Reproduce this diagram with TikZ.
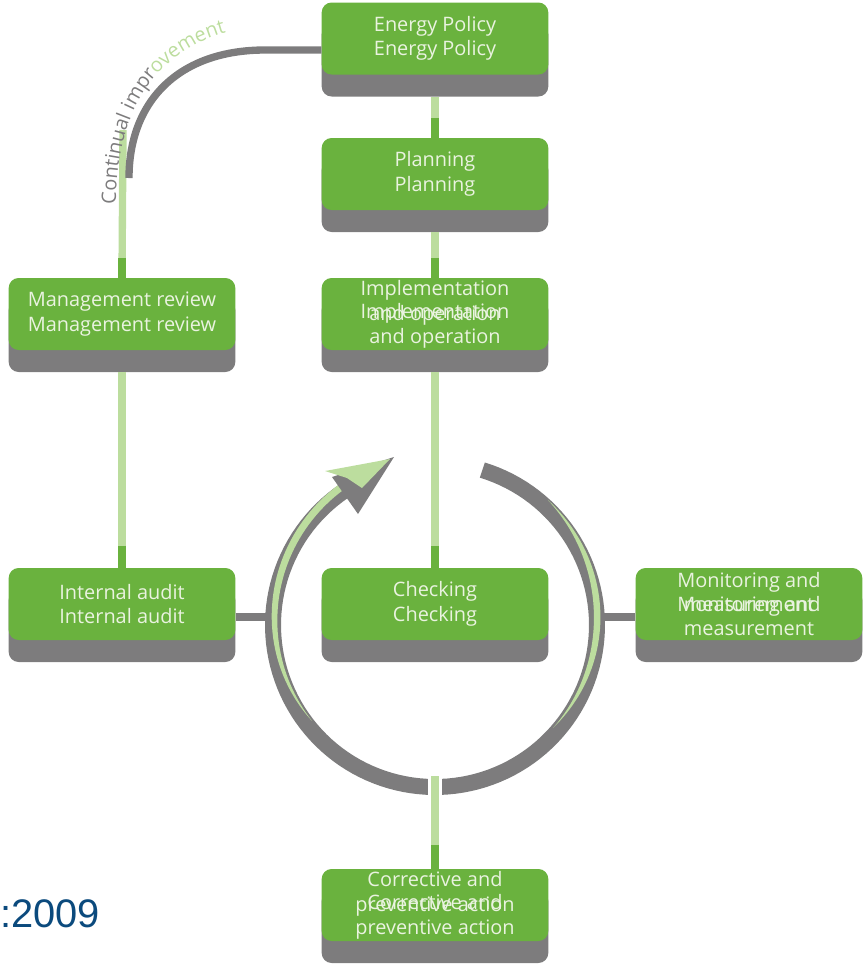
\documentclass[tikz,border=0pt]{standalone}
\usepackage{fontspec}
\setmainfont{Open Sans}
\newfontfamily\boxfont{Open Sans}
\newfontfamily\arialf{Liberation Sans}
\usetikzlibrary{shadows,calc,decorations.text}
\definecolor{boxgreen}{HTML}{6AB23E}
\definecolor{shadowgrey}{HTML}{7D7C7D}
\definecolor{lightgreen}{HTML}{BCDD9E}
\definecolor{txtwhite}{HTML}{EAF3E0}
\definecolor{titleblue}{HTML}{0B4A7D}
\begin{document}
\begin{tikzpicture}[x=0.03cm,y=-0.03cm,
  declare function={rcl(\t)=167-(\t-122)*11/96; wl(\t)=7*(1-((\t-122)/96)^3);
                    rcr(\t)=168-(45-\t)*11/83; wr(\t)=6.5*sin(180*(48-\t)/89);},
  ebox/.style={rectangle, rounded corners=0.3cm, fill=boxgreen,
    minimum width=6.8cm, minimum height=2.16cm, inner sep=0pt,
    text=txtwhite, font=\boxfont\fontsize{17}{21}\selectfont, align=center,
    drop shadow={shadow xshift=0cm, shadow yshift=-0.66cm, fill=shadowgrey, opacity=1}},
  btxt/.style={text=txtwhite, font=\boxfont\fontsize{17}{21}\selectfont, align=center, inner sep=0pt},
  lg/.style={draw=lightgreen, line width=0.22cm},
  dg/.style={draw=boxgreen, line width=0.22cm},
  gbar/.style={draw=shadowgrey, line width=0.22cm},
]
\useasboundingbox (0,0) rectangle (863,968);

% ---------------- cycle ring ----------------
\draw[shadowgrey, line width=0.48cm] plot[domain=-236:73, samples=120] ({435+162*cos(\x)},{625-162*sin(\x)});
% green crescents
\fill[lightgreen] plot[domain=122:218, samples=50] ({435+(rcl(\x)+wl(\x)/2)*cos(\x)},{625-(rcl(\x)+wl(\x)/2)*sin(\x)})
   -- plot[domain=218:122, samples=50] ({435+(rcl(\x)-wl(\x)/2)*cos(\x)},{625-(rcl(\x)-wl(\x)/2)*sin(\x)}) -- cycle;
\fill[lightgreen] plot[domain=48:-41, samples=50] ({435+(rcr(\x)+wr(\x)/2)*cos(\x)},{625-(rcr(\x)+wr(\x)/2)*sin(\x)})
   -- plot[domain=-41:48, samples=50] ({435+(rcr(\x)-wr(\x)/2)*cos(\x)},{625-(rcr(\x)-wr(\x)/2)*sin(\x)}) -- cycle;
% arrow head
\fill[shadowgrey] (332,477) -- (394,457) -- (358,514) -- cycle;
\fill[lightgreen] (325,471) -- (390,459) -- (362,488) -- (347,478) -- cycle;

% ---------------- boxes ----------------
\node[ebox] (pol)  at (435,38.5) {Energy Policy\\Energy Policy};
\node[ebox] (plan) at (435,174)  {Planning\\Planning};
\node[ebox] (impl) at (435,314)  {};
\node[ebox] (mgmt) at (122,314)  {Management review\\Management review};
\node[ebox] (aud)  at (122,604)  {Internal audit\\Internal audit};
\node[ebox] (chk)  at (435,604)  {Checking\\Checking};
\node[ebox] (mon)  at (749,604)  {};
\node[ebox] (cor)  at (435,905)  {};

\node[btxt] (implA) at ($(impl)+(0,-11)$) {Implementation\\and operation};
\node[btxt] (implB) at ($(impl)+(0,12)$)  {Implementation\\and operation};
\node[btxt] (monA)  at ($(mon)+(0,-12)$)  {Monitoring and\\measurement};
\node[btxt] (monB)  at ($(mon)+(0,12)$)   {Monitoring and\\measurement};
\node[btxt] (corA)  at ($(cor)+(0,-11)$)  {Corrective and\\preventive action};
\node[btxt] (corB)  at ($(cor)+(0,12)$)   {Corrective and\\preventive action};

% ---------------- vertical connectors ----------------
\draw[lg] ($(pol.south)+(0,22)$) -- (plan.north);
\draw[dg] ($(plan.north)+(0,-20)$) -- (plan.north);
\draw[lg] ($(plan.south)+(0,22)$) -- (impl.north);
\draw[dg] ($(impl.north)+(0,-20)$) -- (impl.north);
\draw[lg] ($(impl.south)+(0,22)$) -- (chk.north);
\draw[dg] ($(chk.north)+(0,-22)$) -- (chk.north);
\draw[lg] ($(mgmt.south)+(0,22)$) -- (aud.north);
\draw[dg] ($(aud.north)+(0,-22)$) -- (aud.north);

% bottom connector through the ring
\coordinate (ringb) at (435,776);
\draw[white, line width=0.4cm] (435,773) -- (435,799);
\draw[lg] (ringb) -- (cor.north);
\draw[dg] ($(cor.north)+(0,-24)$) -- (cor.north);

% horizontal grey connectors
\coordinate (rl) at (270,617);
\coordinate (rr) at (601,617);
\draw[gbar] (aud.east |- rl) -- (rl);
\draw[gbar] (rr) -- (mon.west |- rr);

% ---------------- continual improvement ----------------
\coordinate (ciTop) at (123,130);
\draw[lg] (mgmt.north) -- (ciTop);
\draw[dg] ($(mgmt.north)+(0,-20)$) -- (mgmt.north);
\coordinate (ciStart) at (129,178);
\draw[shadowgrey, line width=0.22cm] (ciStart) .. controls (129,100) and (180,50) .. (265,50) -- ($(pol.west)+(0,11.5)$);
\path[decorate, decoration={text along path, text align=left,
   text={|\boxfont\fontsize{17}{17}\selectfont\color{shadowgrey}|Continual impr|\boxfont\fontsize{17}{17}\selectfont\color{lightgreen}|ovement}}]
   (116,204) .. controls (116,100) and (165,40) .. (250,28);

% ---------------- title fragment ----------------
\node[anchor=base west, inner sep=0pt, text=titleblue, font=\arialf\fontsize{34}{34}\selectfont] (ttl) at (0,927) {:2009};
\end{tikzpicture}
\end{document}
